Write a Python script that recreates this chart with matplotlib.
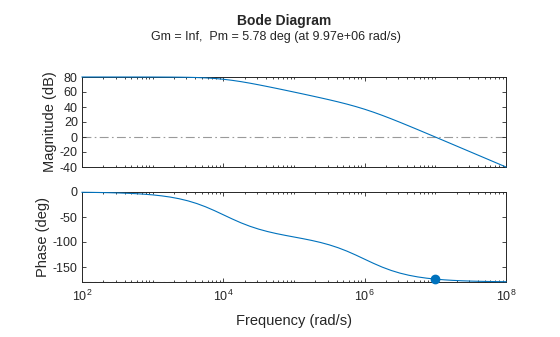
import numpy as np
import matplotlib
matplotlib.use("Agg")
import matplotlib.pyplot as plt
from matplotlib.ticker import LogLocator, NullFormatter, FixedLocator

plt.rcParams["font.family"] = ["Liberation Sans", "DejaVu Sans"]
plt.rcParams["axes.unicode_minus"] = False
plt.rcParams["mathtext.fontset"] = "custom"
plt.rcParams["mathtext.rm"] = "Liberation Sans"
plt.rcParams["mathtext.it"] = "Liberation Sans:italic"
plt.rcParams["mathtext.bf"] = "Liberation Sans:bold"

# ---- data (eighth-decade samples) ----
freq = [1e2, 1.334e2, 1.778e2, 2.371e2, 3.162e2, 4.217e2, 5.623e2, 7.499e2,
        1e3, 1.334e3, 1.778e3, 2.371e3, 3.162e3, 4.217e3, 5.623e3, 7.499e3,
        1e4, 1.334e4, 1.778e4, 2.371e4, 3.162e4, 4.217e4, 5.623e4, 7.499e4,
        1e5, 1.334e5, 1.778e5, 2.371e5, 3.162e5, 4.217e5, 5.623e5, 7.499e5,
        1e6, 1.334e6, 1.778e6, 2.371e6, 3.162e6, 4.217e6, 5.623e6, 7.499e6,
        1e7, 1.334e7, 1.778e7, 2.371e7, 3.162e7, 4.217e7, 5.623e7, 7.499e7,
        1e8]
mag_db = [80.0, 80.0, 80.0, 80.0, 80.0, 79.99, 79.99, 79.98,
          79.96, 79.92, 79.87, 79.76, 79.59, 79.29, 78.81, 78.06,
          76.99, 75.56, 73.81, 71.79, 69.58, 67.25, 64.86, 62.40,
          59.91, 57.40, 54.85, 52.25, 49.59, 46.79, 43.81, 40.56,
          36.99, 33.06, 28.81, 24.29, 19.59, 14.76, 9.87, 4.92,
          -0.04, -5.02, -10.01, -15.01, -20.0, -25.0, -30.0, -35.0,
          -40.0]
phase_deg = [-0.58, -0.76, -1.02, -1.36, -1.83, -2.44, -3.25, -4.33,
             -5.77, -7.68, -10.18, -13.48, -17.73, -23.11, -29.67, -37.30,
             -45.57, -53.89, -61.67, -68.49, -74.26, -79.08, -83.14, -86.69,
             -90.0, -93.31, -96.86, -100.92, -105.74, -111.51, -118.33, -126.11,
             -134.43, -142.70, -150.33, -156.89, -162.27, -166.52, -169.82, -172.32,
             -174.23, -175.67, -176.75, -177.56, -178.17, -178.63, -178.97, -179.23,
             -179.42]

wc = 9.97e6          # gain crossover (rad/s)
pm = 5.78            # phase margin (deg)
mag_ticks = [-40, -20, 0, 20, 40, 60, 80]
phase_ticks = [-150, -100, -50, 0]
freq_ticks = [1e2, 1e4, 1e6, 1e8]
freq_labels = [r"$10^{2}$", r"$10^{4}$", r"$10^{6}$", r"$10^{8}$"]

BLUE = "#0072BD"
AXC = "#262626"
W, H = 560, 337

fig = plt.figure(figsize=(W / 100, H / 100), dpi=100)


def px_axes(x0, y0, x1, y1):
    return fig.add_axes([x0 / W, 1 - y1 / H, (x1 - x0) / W, (y1 - y0) / H])


ax1 = px_axes(82, 77, 506, 167)
ax2 = px_axes(82, 192, 506, 282)

for ax in (ax1, ax2):
    ax.set_xscale("log")
    ax.set_xlim(1e2, 1e8)
    ax.xaxis.set_major_locator(FixedLocator(freq_ticks))
    ax.xaxis.set_minor_locator(LogLocator(base=10, subs=np.arange(1, 10), numticks=20))
    ax.xaxis.set_minor_formatter(NullFormatter())
    ax.tick_params(which="both", direction="in", top=True, right=True,
                   colors=AXC, labelsize=9, width=0.6, pad=3)
    ax.tick_params(which="major", length=3)
    ax.tick_params(which="minor", length=1.6)
    ax.tick_params(axis="x", which="major", pad=5)
    for s in ax.spines.values():
        s.set_color(AXC)
        s.set_linewidth(0.7)

# magnitude
ax1.axhline(0, color="#9a9a9a", lw=0.8, ls=(0, (8, 3, 1.5, 3)), zorder=1)
ax1.plot(freq, mag_db, color=BLUE, lw=0.8, zorder=3, clip_on=False)
ax1.set_ylim(-40, 80)
ax1.set_yticks(mag_ticks)
ax1.set_xticklabels([])
ax1.set_ylabel("Magnitude (dB)", fontsize=10.5, color=AXC, labelpad=2)

# phase
ax2.axhline(-180, color="#9a9a9a", lw=0.8, ls=(0, (8, 3, 1.5, 3)), zorder=1)
ax2.plot(freq, phase_deg, color=BLUE, lw=0.8, zorder=3, clip_on=False)
ax2.plot([wc, wc], [-180, -180 + pm], color=BLUE, lw=0.8, zorder=3)
ax2.plot([wc], [-180 + pm], "o", color=BLUE, ms=6, zorder=4, clip_on=False)
ax2.set_ylim(-180, 0)
ax2.set_yticks(phase_ticks)
ax2.set_xticklabels(freq_labels)
ax2.set_ylabel("Phase (deg)", fontsize=10.5, color=AXC, labelpad=2)
ax2.set_xlabel("Frequency (rad/s)", fontsize=10.5, color=AXC, labelpad=7)

fig.text(284 / W, 1 - 21 / H, "Bode Diagram", ha="center", va="center",
         fontsize=10, fontweight="bold", color=AXC)
fig.text(276 / W, 1 - 37 / H, "Gm = Inf,  Pm = 5.78 deg (at 9.97e+06 rad/s)",
         ha="center", va="center", fontsize=9, color=AXC)

fig.savefig("out.png", dpi=100)
